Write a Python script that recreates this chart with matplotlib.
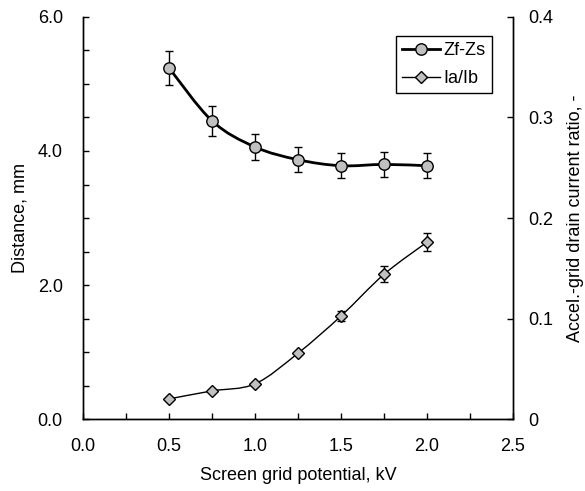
import numpy as np
import matplotlib.pyplot as plt
from matplotlib.path import Path
from matplotlib.patches import PathPatch
from matplotlib.ticker import MultipleLocator, FixedLocator

plt.rcParams["font.family"] = ["Liberation Sans", "DejaVu Sans"]
plt.rcParams["font.size"] = 13

# Значення
potential_kv = [0.5, 0.75, 1.0, 1.25, 1.5, 1.75, 2.0]
zf_zs = [5.24, 4.45, 4.06, 3.87, 3.78, 3.80, 3.78]
zf_zs_err = [0.25, 0.22, 0.20, 0.19, 0.19, 0.19, 0.19]
ia_ib = [0.020, 0.028, 0.035, 0.0655, 0.1025, 0.144, 0.176]
ia_ib_err = [0.0, 0.0, 0.0, 0.0, 0.005, 0.008, 0.009]

x_ticks = [0.0, 0.5, 1.0, 1.5, 2.0, 2.5]
left_ticks = [0.0, 2.0, 4.0, 6.0]
right_ticks = [0, 0.1, 0.2, 0.3, 0.4]
right_tick_labels = ["0", "0.1", "0.2", "0.3", "0.4"]


def smooth_path(xs, ys):
    # Згладжена крива Безьє через точки (як у Excel)
    pts = np.column_stack([xs, ys])
    n = len(pts)
    verts = [pts[0]]
    codes = [Path.MOVETO]
    for i in range(n - 1):
        p0 = pts[i - 1] if i > 0 else pts[i]
        p1 = pts[i]
        p2 = pts[i + 1]
        p3 = pts[i + 2] if i + 2 < n else pts[i + 1]
        c1 = p1 + (p2 - p0) / 6
        c2 = p2 - (p3 - p1) / 6
        verts += [c1, c2, p2]
        codes += [Path.CURVE4] * 3
    return Path(verts, codes)


fig = plt.figure(figsize=(5.85, 4.91), dpi=100)
ax = fig.add_axes([0.1419, 0.1466, 0.7351, 0.8188])
ax2 = ax.twinx()

ax.add_patch(PathPatch(smooth_path(potential_kv, zf_zs), fill=False,
                       edgecolor="black", linewidth=2, zorder=2))
ax.errorbar(potential_kv, zf_zs, yerr=zf_zs_err, fmt="none", ecolor="black",
            elinewidth=1, capsize=3.2, capthick=1, zorder=3)
ax.plot(potential_kv, zf_zs, linestyle="none", marker="o", markersize=8.2,
        markerfacecolor="#c0c0c0", markeredgecolor="black", markeredgewidth=1, zorder=4)

ax2.add_patch(PathPatch(smooth_path(potential_kv, ia_ib), fill=False,
                        edgecolor="black", linewidth=1, zorder=2))
ax2.errorbar(potential_kv, ia_ib, yerr=ia_ib_err, fmt="none", ecolor="black",
             elinewidth=1, capsize=3.2, capthick=1, zorder=3)
ax2.plot(potential_kv, ia_ib, linestyle="none", marker="D", markersize=6,
         markerfacecolor="#c0c0c0", markeredgecolor="black", markeredgewidth=1, zorder=4)

ax.set_xlim(0, 2.5)
ax.set_ylim(0, 6)
ax2.set_ylim(0, 0.4)

ax.set_xticks(x_ticks)
ax.set_xticklabels([f"{v:.1f}" for v in x_ticks])
ax.xaxis.set_minor_locator(MultipleLocator(0.25))
ax.set_yticks(left_ticks)
ax.set_yticklabels([f"{v:.1f}" for v in left_ticks])
ax.yaxis.set_minor_locator(MultipleLocator(0.5))
ax2.yaxis.set_major_locator(FixedLocator(right_ticks))
ax2.set_yticklabels(right_tick_labels)

for a in (ax, ax2):
    a.tick_params(which="both", direction="in", length=4.3, width=1, labelsize=13)
    for s in a.spines.values():
        s.set_linewidth(1)
ax.spines["top"].set_visible(False)
ax2.spines["top"].set_visible(False)
ax.tick_params(axis="x", pad=14)
ax.tick_params(axis="y", pad=14.5)
ax2.tick_params(axis="y", pad=11)

ax.set_xlabel("Screen grid potential, kV", fontsize=13, labelpad=8)
ax.set_ylabel("Distance, mm", fontsize=13, labelpad=7)
ax2.set_ylabel("Accel.-grid drain current ratio, -", fontsize=13, labelpad=10)

h1 = plt.Line2D([], [], color="black", linewidth=2, marker="o", markersize=8.2,
                markerfacecolor="#c0c0c0", markeredgecolor="black")
h2 = plt.Line2D([], [], color="black", linewidth=1, marker="D", markersize=6,
                markerfacecolor="#c0c0c0", markeredgecolor="black")
leg = ax2.legend([h1, h2], ["Zf-Zs", "Ia/Ib"], loc="upper right",
                 bbox_to_anchor=(0.951, 0.953), borderaxespad=0, fancybox=False,
                 edgecolor="black", framealpha=1, handlelength=2.1,
                 handletextpad=0.2, borderpad=0.35, labelspacing=0.6, fontsize=13)
leg.get_frame().set_linewidth(1)

fig.savefig("out.png", dpi=100)
